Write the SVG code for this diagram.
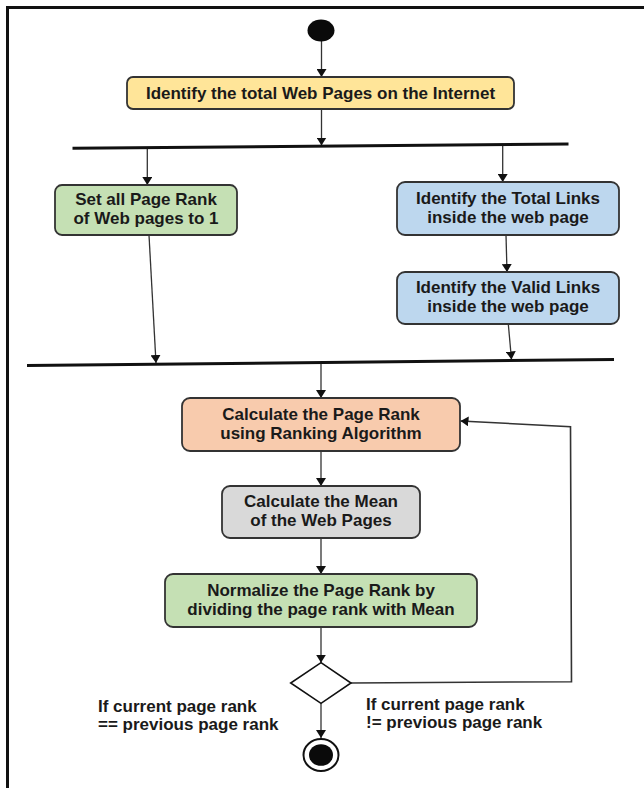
<svg xmlns="http://www.w3.org/2000/svg" width="644" height="788" viewBox="0 0 644 788">
<defs>
<marker id="ah" markerWidth="10" markerHeight="10" refX="8" refY="5" orient="auto" markerUnits="userSpaceOnUse">
<path d="M0,0 L8,5 L0,10 z" fill="#111"/>
</marker>
<style>
.box{stroke:#333;stroke-width:1.8}
.t{font-family:"Liberation Sans",Arial,sans-serif;font-weight:bold;font-size:17px;fill:#1a1a1a;text-anchor:middle}
.lbl{font-family:"Liberation Sans",Arial,sans-serif;font-weight:bold;font-size:17px;fill:#1a1a1a}
.c{fill:none;stroke:#333;stroke-width:1.3}
.bar{stroke:#111;stroke-width:3;fill:none}
</style>
</defs>
<rect width="644" height="788" fill="#fff"/>
<path d="M7.5,788 V7.5 H644" fill="none" stroke="#111" stroke-width="3"/>

<g id="connectors">
<line class="c" x1="321.5" y1="41" x2="321.5" y2="77" marker-end="url(#ah)"/>
<line class="c" x1="321.5" y1="109" x2="321.5" y2="145.5" marker-end="url(#ah)"/>
<line class="c" x1="147.3" y1="148" x2="147.3" y2="185" marker-end="url(#ah)"/>
<line class="c" x1="502.7" y1="145" x2="502.7" y2="182" marker-end="url(#ah)"/>
<line class="c" x1="506" y1="235" x2="507" y2="272" marker-end="url(#ah)"/>
<line class="c" x1="149" y1="235" x2="156" y2="363" marker-end="url(#ah)"/>
<line class="c" x1="508.3" y1="324" x2="511.5" y2="359.5" marker-end="url(#ah)"/>
<line class="c" x1="321" y1="362" x2="321" y2="398" marker-end="url(#ah)"/>
<line class="c" x1="321" y1="451" x2="321" y2="486" marker-end="url(#ah)"/>
<line class="c" x1="321" y1="538" x2="321" y2="574" marker-end="url(#ah)"/>
<line class="c" x1="321" y1="627" x2="321" y2="662.7" marker-end="url(#ah)"/>
<polyline class="c" points="351,683 571.5,681.7 570.5,426.7 460.5,421" marker-end="url(#ah)" style="stroke-width:1.6"/>
<line class="c" x1="321" y1="703.3" x2="321" y2="738" marker-end="url(#ah)"/>
</g>

<g id="start"><ellipse cx="321" cy="30.5" rx="13.5" ry="11" fill="#0a0a0a"/></g>

<g id="n1">
<rect class="box" x="127" y="77" width="387" height="32" rx="6" fill="#FFE599"/>
<text class="t" x="320.5" y="99">Identify the total Web Pages on the Internet</text>
</g>

<g id="fork"><line class="bar" x1="72.5" y1="148.3" x2="568.5" y2="144"/></g>

<g id="n2">
<rect class="box" x="55" y="185" width="182" height="50" rx="7" fill="#C5E0B4"/>
<text class="t" x="146" y="205">Set all Page Rank</text>
<text class="t" x="146" y="224">of Web pages to 1</text>
</g>

<g id="n3">
<rect class="box" x="397" y="182" width="222" height="53" rx="8" fill="#BDD7EE"/>
<text class="t" x="508" y="203.5">Identify the Total Links</text>
<text class="t" x="508" y="222.5">inside the web page</text>
</g>

<g id="n4">
<rect class="box" x="397" y="272" width="222" height="52" rx="8" fill="#BDD7EE"/>
<text class="t" x="508" y="293">Identify the Valid Links</text>
<text class="t" x="508" y="312">inside the web page</text>
</g>

<g id="join"><line class="bar" x1="27" y1="365.5" x2="614" y2="359.5"/></g>

<g id="n5">
<rect class="box" x="182" y="398" width="278" height="53" rx="8" fill="#F8CBAD"/>
<text class="t" x="321" y="419.5">Calculate the Page Rank</text>
<text class="t" x="321" y="438.5">using Ranking Algorithm</text>
</g>

<g id="n6">
<rect class="box" x="222" y="486" width="198" height="52" rx="8" fill="#D9D9D9"/>
<text class="t" x="321" y="507">Calculate the Mean</text>
<text class="t" x="321" y="526">of the Web Pages</text>
</g>

<g id="n7">
<rect class="box" x="165" y="574" width="312" height="53" rx="8" fill="#C5E0B4"/>
<text class="t" x="321" y="595.5">Normalize the Page Rank by</text>
<text class="t" x="321" y="614.5">dividing the page rank with Mean</text>
</g>

<g id="decision">
<polygon points="321,662.7 351,683 321,703.3 290.7,683" fill="#fff" stroke="#111" stroke-width="1.6"/>
</g>

<g id="label-eq">
<text class="lbl" x="98" y="712">If current page rank</text>
<text class="lbl" x="98" y="730">== previous page rank</text>
</g>
<g id="label-neq">
<text class="lbl" x="366" y="709.5">If current page rank</text>
<text class="lbl" x="366" y="727.5">!= previous page rank</text>
</g>

<g id="end">
<ellipse cx="321" cy="755" rx="17.5" ry="16" fill="#fff" stroke="#111" stroke-width="2"/>
<ellipse cx="321" cy="755" rx="12" ry="10.8" fill="#0a0a0a"/>
</g>
</svg>
